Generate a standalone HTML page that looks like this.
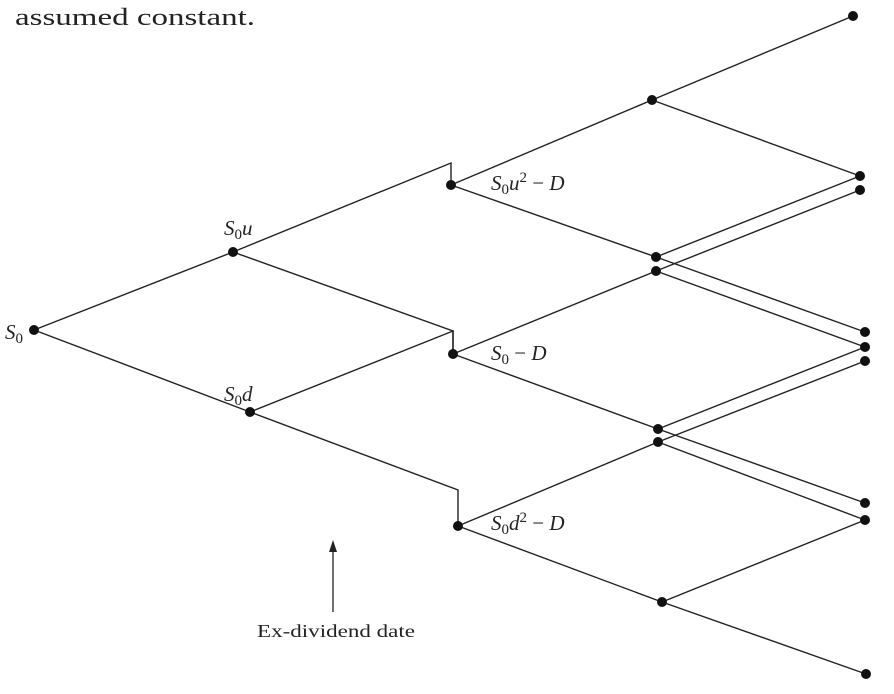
<!DOCTYPE html>
<html><head><meta charset="utf-8"><style>
html,body{margin:0;padding:0;background:#fff;}
svg{display:block;font-family:"Liberation Serif",serif;}
</style></head><body>
<svg width="894" height="694" viewBox="0 0 894 694">
<text x="15" y="25" font-size="24" textLength="240" lengthAdjust="spacingAndGlyphs" fill="#222">assumed constant.</text>
<g id="edges" stroke="#222" stroke-width="1.4" fill="none"></g>
<g id="nodes" fill="#111"></g>
<g font-size="21" font-style="italic" fill="#222">
<text x="5" y="339">S<tspan font-size="15" font-style="normal" dy="4">0</tspan></text>
<text x="224" y="235">S<tspan font-size="15" font-style="normal" dy="4">0</tspan><tspan dy="-4">u</tspan></text>
<text x="224" y="401">S<tspan font-size="15" font-style="normal" dy="4">0</tspan><tspan dy="-4">d</tspan></text>
<text x="491" y="190">S<tspan font-size="15" font-style="normal" dy="4">0</tspan><tspan dy="-4">u</tspan><tspan font-size="15" font-style="normal" dy="-8">2</tspan><tspan font-style="normal" dy="8"> − </tspan>D</text>
<text x="491" y="360">S<tspan font-size="15" font-style="normal" dy="4">0</tspan><tspan font-style="normal" dy="-4"> − </tspan>D</text>
<text x="491" y="530">S<tspan font-size="15" font-style="normal" dy="4">0</tspan><tspan dy="-4">d</tspan><tspan font-size="15" font-style="normal" dy="-8">2</tspan><tspan font-style="normal" dy="8"> − </tspan>D</text>
</g>
<g>
<line x1="333" y1="550" x2="333" y2="612" stroke="#222" stroke-width="1.3"/>
<polygon points="333,540 329,552 337,552" fill="#222"/>
</g>
<text x="257" y="637" font-size="18" textLength="158" lengthAdjust="spacingAndGlyphs" fill="#222">Ex-dividend date</text>
</svg>
<script>
const nodeX = [34,233,250,451,453,458,652,656,656,658,658,662,853,860,860,865,865,865,865,865,866];
const nodeY = [330,252,412,185,354,526,100,257,271,429,442,602,16,176,190,332,347,361,503,520,674];
const edgePairs = [[0,1],[0,2],[3,6],[3,7],[4,8],[4,9],[5,10],[5,11],[6,12],[6,13],[7,13],[7,15],[8,14],[8,16],[9,16],[9,18],[10,17],[10,19],[11,19],[11,20]];
const stepEdges = [[1,3,163],[1,4,331],[2,4,331],[2,5,490]];
const NS="http://www.w3.org/2000/svg";
const eg=document.getElementById('edges'), ng=document.getElementById('nodes');
edgePairs.forEach(p=>{
  const l=document.createElementNS(NS,'line');
  l.setAttribute('x1',nodeX[p[0]]);l.setAttribute('y1',nodeY[p[0]]);
  l.setAttribute('x2',nodeX[p[1]]);l.setAttribute('y2',nodeY[p[1]]);
  
  
  eg.appendChild(l);
});
stepEdges.forEach(s=>{
  const a=s[0],b=s[1];
  const pl=document.createElementNS(NS,'polyline');
  pl.setAttribute('points',nodeX[a]+','+nodeY[a]+' '+nodeX[b]+','+s[2]+' '+nodeX[b]+','+nodeY[b]);
  
  
  eg.appendChild(pl);
});
nodeX.forEach((x,i)=>{
  const c=document.createElementNS(NS,'circle');
  c.setAttribute('cx',x);c.setAttribute('cy',nodeY[i]);c.setAttribute('r',5);
  
  
  ng.appendChild(c);
});
</script>
</body></html>
